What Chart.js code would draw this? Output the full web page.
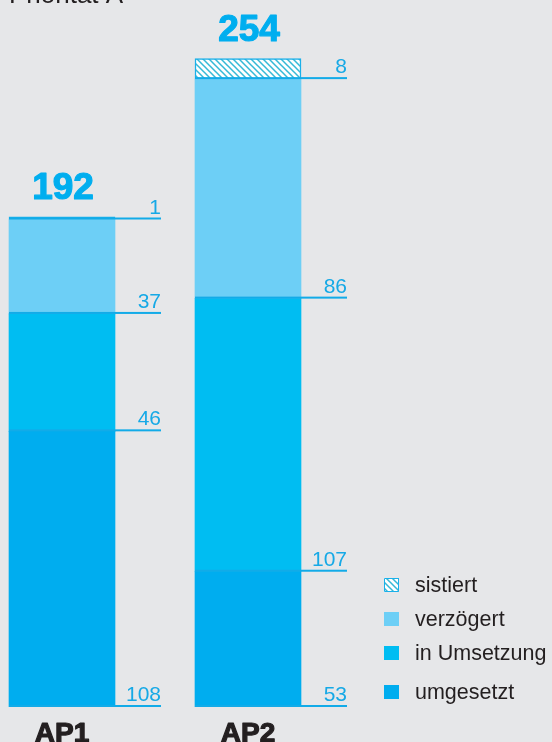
<!DOCTYPE html>
<html>
<head>
<meta charset="utf-8">
<script src="https://cdn.jsdelivr.net/npm/chart.js@4"></script>
<style>
  body { margin: 0; background: #e6e7e9; }
  #wrap { width: 552px; height: 742px; position: relative; }
</style>
</head>
<body>
<div id="wrap"><canvas id="chart" width="552" height="742"></canvas></div>
<script>
// data
const categories = ['AP1', 'AP2'];
const umgesetzt = [108, 53];
const inUmsetzung = [46, 107];
const verzoegert = [37, 86];
const sistiert = [1, 8];
const totals = [192, 254];
const seriesNames = ['umgesetzt', 'in Umsetzung', 'verzögert', 'sistiert'];
const title = 'Priorität A';

const FONT = '"Liberation Sans", Arial, Helvetica, sans-serif';
const lineColor = '#12abe8';
const labelColor = '#16a9e6';

// hatched fill for "sistiert"
function makeHatch() {
    const c = document.createElement('canvas');
    c.width = 6; c.height = 6;
    const g = c.getContext('2d');
    g.fillStyle = '#ffffff';
    g.fillRect(0, 0, 6, 6);
    g.strokeStyle = '#35b9d6';
    g.lineWidth = 1.5;
    g.beginPath();
    g.moveTo(-1, -1); g.lineTo(7, 7);
    g.moveTo(-4, 2); g.lineTo(2, 8);
    g.moveTo(4, -2); g.lineTo(8, 2);
    g.stroke();
    return g.createPattern(c, 'repeat');
}
const hatch = makeHatch();

const colors = ['#00adef', '#00bdf2', '#6dcff6', hatch];
const series = [umgesetzt, inUmsetzung, verzoegert, sistiert];

// label line end per bar (px right of the bar)
const lineExtra = 46;

const datasets = series.map((vals, s) => ({
    label: seriesNames[s],
    data: vals.map((v, i) => ({ x: i, y: v })),
    backgroundColor: colors[s],
    borderColor: s === 3 ? '#1ab0ea' : colors[s],
    borderWidth: s === 3 ? 1.5 : 0,
    borderSkipped: false,
    barThickness: 106
}));

function heavyText(ctx, txt, x, y, color) {
    ctx.fillStyle = color;
    ctx.strokeStyle = color;
    ctx.lineWidth = 1.2;
    ctx.lineJoin = 'round';
    ctx.strokeText(txt, x, y);
    ctx.fillText(txt, x, y);
}

const overlayPlugin = {
    id: 'overlay',
    afterDatasetsDraw(chart) {
        const ctx = chart.ctx;
        ctx.save();

        // value lines + labels at the base of each segment
        chart.data.datasets.forEach((ds, d) => {
            const meta = chart.getDatasetMeta(d);
            meta.data.forEach((bar, i) => {
                const left = bar.x - bar.width / 2;
                const right = bar.x + bar.width / 2 + lineExtra;
                const y = bar.base;
                ctx.fillStyle = lineColor;
                ctx.fillRect(left, y - 2, right - left, 2);
                ctx.font = '21px ' + FONT;
                ctx.textAlign = 'right';
                ctx.textBaseline = 'alphabetic';
                ctx.fillStyle = labelColor;
                ctx.fillText(series[d][i], right, y - 6);
            });
        });

        // totals above the bars
        const topMeta = chart.getDatasetMeta(series.length - 1);
        topMeta.data.forEach((bar, i) => {
            ctx.font = 'bold 37px ' + FONT;
            ctx.textAlign = 'center';
            heavyText(ctx, totals[i], bar.x + 1, bar.y - 18, '#00aeef');
        });

        // category names
        const xs = chart.scales.x;
        categories.forEach((c, i) => {
            ctx.font = 'bold 28px ' + FONT;
            ctx.textAlign = 'center';
            heavyText(ctx, c, xs.getPixelForValue(i), 742, '#231f20');
        });

        // title (cut at the top edge)
        ctx.font = '26px ' + FONT;
        ctx.textAlign = 'left';
        ctx.fillStyle = '#231f20';
        ctx.fillText(title, 9, 3);

        // legend
        const rows = [585, 619, 653, 692];
        [3, 2, 1, 0].forEach((s, r) => {
            const y = rows[r];
            ctx.fillStyle = colors[s];
            ctx.fillRect(384, y - 7, 15, 14);
            if (s === 3) {
                ctx.strokeStyle = '#1ab0ea';
                ctx.lineWidth = 1;
                ctx.strokeRect(384.5, y - 6.5, 14, 13);
            }
            ctx.font = '21.5px ' + FONT;
            ctx.textAlign = 'left';
            ctx.textBaseline = 'middle';
            ctx.fillStyle = '#231f20';
            ctx.fillText(seriesNames[s], 415, y + 1);
            ctx.textBaseline = 'alphabetic';
        });

        ctx.restore();
    }
};

new Chart(document.getElementById('chart'), {
    type: 'bar',
    data: { datasets: datasets },
    options: {
        responsive: false,
        animation: false,
        layout: { padding: { top: 0, left: 0, right: 0, bottom: 35 } },
        plugins: { legend: { display: false }, tooltip: { enabled: false } },
        scales: {
            x: {
                type: 'linear',
                stacked: true,
                display: false,
                offset: false,
                min: -62 / 186,
                max: 490 / 186
            },
            y: {
                stacked: true,
                display: false,
                min: 0,
                max: 277
            }
        }
    },
    plugins: [overlayPlugin]
});
</script>
</body>
</html>
